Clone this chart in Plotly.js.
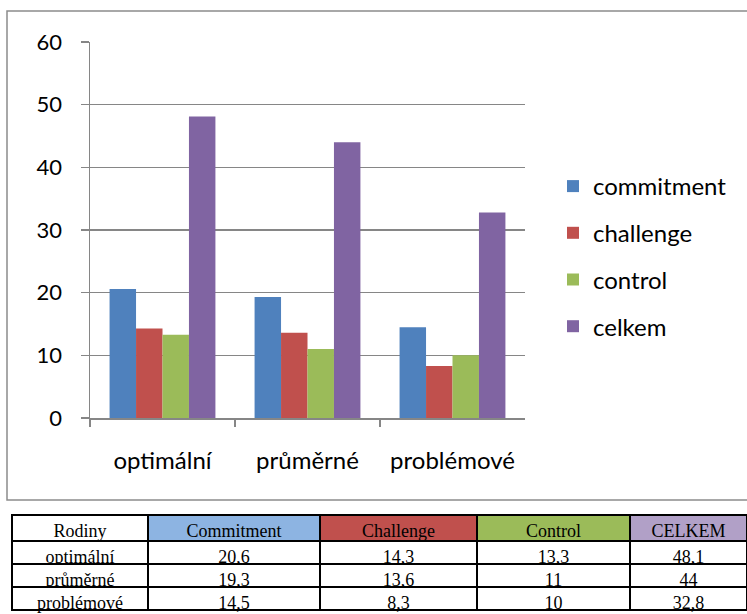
<!DOCTYPE html>
<html>
<head>
<meta charset="utf-8">
<script src="https://cdn.plot.ly/plotly-3.0.1.min.js"></script>
<style>html,body{margin:0;padding:0;background:#fff}#chart{width:747px;height:614px}</style>
</head>
<body>
<div id="chart"></div>
<script>
var categories = ["optimální", "průměrné", "problémové"];
var seriesNames = ["commitment", "challenge", "control", "celkem"];
var commitment = [20.6, 19.3, 14.5];
var challenge = [14.3, 13.6, 8.3];
var control = [13.3, 11, 10];
var celkem = [48.1, 44, 32.8];
var tableHeader = ["Rodiny", "Commitment", "Challenge", "Control", "CELKEM"];
var tableCommitment = ["20,6", "19,3", "14,5"];
var tableChallenge = ["14,3", "13,6", "8,3"];
var tableControl = ["13,3", "11", "10"];
var tableCelkem = ["48,1", "44", "32,8"];

var colors = ["#4F81BD", "#C0504D", "#9BBB59", "#8064A2"];
var headerColors = ["#FFFFFF", "#8DB4E2", "#C0504D", "#9BBB59", "#B1A0C7"];
var values = [commitment, challenge, control, celkem];
var W = 747, H = 614;
var font = "Lato, 'Open Sans', sans-serif";

var traces = seriesNames.map(function (n, i) {
  return {
    type: "bar", name: n, x: categories, y: values[i],
    marker: {color: colors[i]}, legendgroup: "g" + i,
    hoverinfo: "none"
  };
});

traces.push({
  type: "table",
  domain: {x: [12 / W, 1], y: [0, (H - 515) / H]},
  columnwidth: [136, 172, 157, 153, 117],
  header: {
    values: tableHeader,
    fill: {color: headerColors},
    line: {color: "#000", width: 2},
    align: "center",
    height: 26,
    font: {family: "'Liberation Serif', serif", size: 18, color: "#000"}
  },
  cells: {
    values: [categories, tableCommitment, tableChallenge, tableControl, tableCelkem],
    fill: {color: "#FFFFFF"},
    line: {color: "#000", width: 2},
    align: "center",
    height: 23,
    font: {family: "'Liberation Serif', serif", size: 18, color: "#000"}
  }
});

var layout = {
  width: W, height: H,
  margin: {l: 0, r: 0, t: 0, b: 0},
  paper_bgcolor: "#fff", plot_bgcolor: "#fff",
  font: {family: font, size: 24, color: "#000"},
  barmode: "group", bargap: 0.27, bargroupgap: 0,
  showlegend: true,
  legend: {
    x: 553 / W, y: 1 - 164 / H, xanchor: "left", yanchor: "top",
    font: {family: font, size: 24, color: "#000"},
    tracegroupgap: 12.5, itemclick: false
  },
  xaxis: {
    domain: [90 / W, 525 / W],
    showgrid: false, showline: true, linecolor: "#868686", linewidth: 1.5,
    ticks: "outside", tickson: "boundaries", ticklen: 7, tickcolor: "#868686", tickwidth: 1.5,
    ticklabelstandoff: 21,
    tickfont: {family: font, size: 24, color: "#000"}
  },
  yaxis: {
    domain: [1 - 418 / H, 1 - 42 / H],
    range: [0, 60], dtick: 10,
    showgrid: true, gridcolor: "#868686", gridwidth: 1.5,
    showline: true, linecolor: "#868686", linewidth: 1.5,
    ticks: "outside", ticklen: 8, tickcolor: "#868686", tickwidth: 1.5,
    ticklabelstandoff: 14, zeroline: false,
    tickfont: {family: font, size: 22, color: "#000"}
  },
  shapes: [{
    type: "rect", xref: "paper", yref: "paper",
    x0: 7 / W, x1: 1.01, y0: 1 - 500 / H, y1: 1 - 11 / H,
    line: {color: "#8C8C8C", width: 1.5}, fillcolor: "rgba(0,0,0,0)", layer: "below"
  }]
};

Plotly.newPlot("chart", traces, layout, {staticPlot: true, displayModeBar: false});
</script>
</body>
</html>
